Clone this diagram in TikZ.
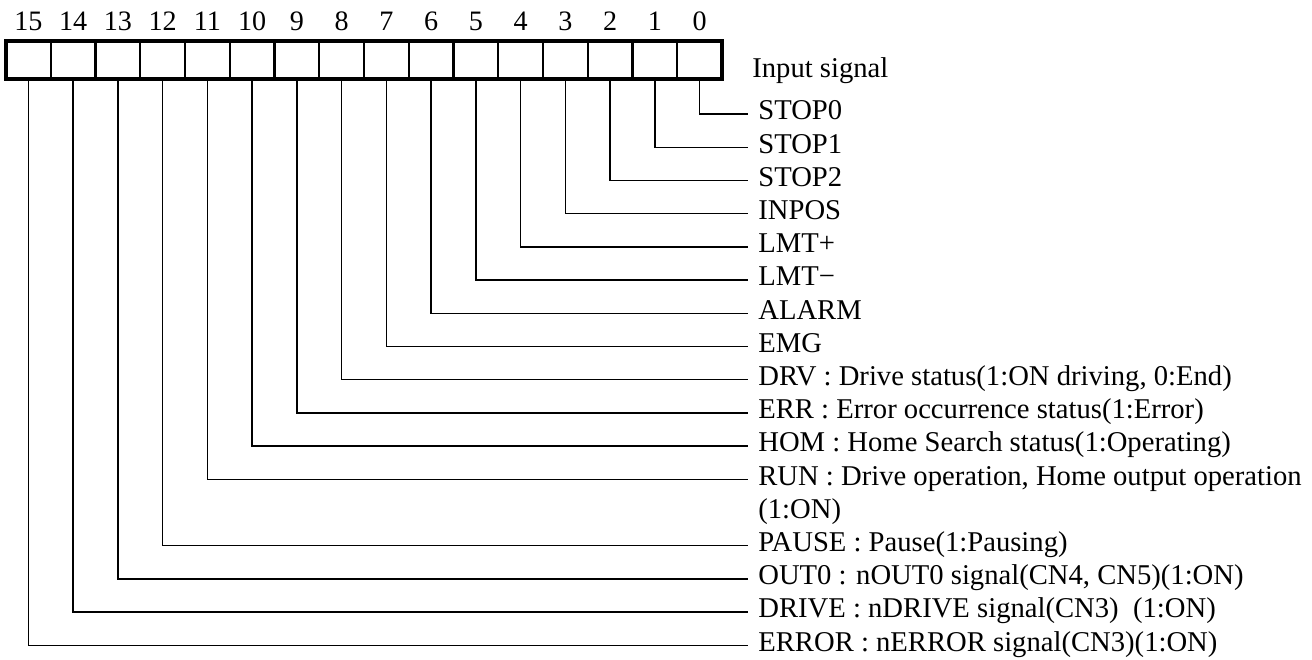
\documentclass[tikz,border=0pt]{standalone}
\usepackage{fontspec}
\setmainfont{Liberation Serif}

\tikzset{
  cell/.style={draw, line width=1.3pt, minimum width=0.895cm,
    minimum height=0.76cm, inner sep=0pt, outer sep=0pt},
  bitno/.style={font=\fontsize{16}{18}\selectfont, inner sep=0pt},
  lbl/.style={anchor=west, font=\fontsize{16.3}{18}\selectfont,
    inner xsep=0.2cm, inner ysep=0pt, text height=0.66em, text depth=0pt},
  sig/.style={line width=0.8pt}
}

\begin{document}
\begin{tikzpicture}

\useasboundingbox
(0,0)
rectangle
(26.24,-13.18);

% register cells and bit numbers
\foreach \i in {0,...,15}{
  \node[cell]
  (b\i)
  at ({0.12+0.895*(15-\i)+0.4475},-1.2)
  {};
  \node[bitno]
  (n\i)
  at ({0.12+0.895*(15-\i)+0.4475},-0.42)
  {\i};
}

\draw[line width=1.9pt]
(b15.north west)
rectangle
(b0.south east);

\node[lbl]
(title)
at (14.84,-1.44)
{Input signal};

% signal names
\node[lbl] (stop0) at (14.96,-2.28) {STOP0};
\node[lbl] (stop1) at (14.96,-2.944) {STOP1};
\node[lbl] (stop2) at (14.96,-3.608) {STOP2};
\node[lbl] (inpos) at (14.96,-4.272) {INPOS};
\node[lbl] (lmtp) at (14.96,-4.936) {LMT+};
\node[lbl] (lmtm) at (14.96,-5.6) {LMT\textminus};
\node[lbl] (alarm) at (14.96,-6.264) {ALARM};
\node[lbl] (emg) at (14.96,-6.928) {EMG};
\node[lbl] (drv) at (14.96,-7.592) {DRV : Drive status(1:ON driving, 0:End)};
\node[lbl] (err) at (14.96,-8.256) {ERR : Error occurrence status(1:Error)};
\node[lbl] (hom) at (14.96,-8.92) {HOM : Home Search status(1:Operating)};
\node[lbl] (run) at (14.96,-9.584) {RUN : Drive operation, Home output operation};
\node[lbl] (runb) at (14.96,-10.248) {(1:ON)};
\node[lbl] (pause) at (14.96,-10.912) {PAUSE : Pause(1:Pausing)};
\node[lbl] (outz) at (14.96,-11.576) {OUT0 : nOUT0 signal(CN4, CN5)(1:ON)};
\node[lbl] (drive) at (14.96,-12.24) {DRIVE : nDRIVE signal(CN3)~~(1:ON)};
\node[lbl] (error) at (14.96,-12.904) {ERROR : nERROR signal(CN3)(1:ON)};

% connectors
\draw[sig] (b0.south) |- (stop0.west);
\draw[sig] (b1.south) |- (stop1.west);
\draw[sig] (b2.south) |- (stop2.west);
\draw[sig] (b3.south) |- (inpos.west);
\draw[sig] (b4.south) |- (lmtp.west);
\draw[sig] (b5.south) |- (lmtm.west);
\draw[sig] (b6.south) |- (alarm.west);
\draw[sig] (b7.south) |- (emg.west);
\draw[sig] (b8.south) |- (drv.west);
\draw[sig] (b9.south) |- (err.west);
\draw[sig] (b10.south) |- (hom.west);
\draw[sig] (b11.south) |- (run.west);
\draw[sig] (b12.south) |- (pause.west);
\draw[sig] (b13.south) |- (outz.west);
\draw[sig] (b14.south) |- (drive.west);
\draw[sig] (b15.south) |- (error.west);

\end{tikzpicture}
\end{document}
